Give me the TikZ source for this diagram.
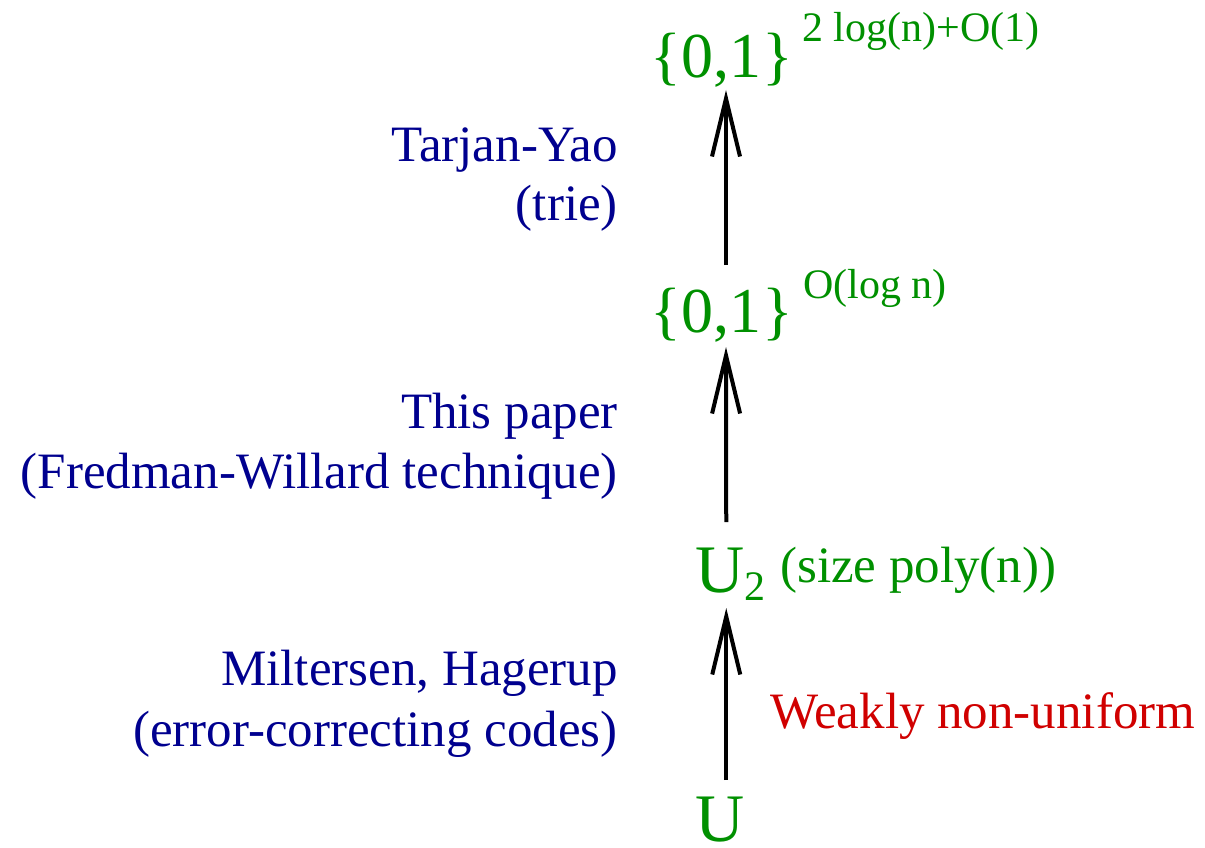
\documentclass[tikz,border=0pt]{standalone}
\usepackage{fontspec}
\setmainfont{Liberation Serif}
\usetikzlibrary{arrows.meta}
\definecolor{fgreen}{RGB}{0,144,0}
\definecolor{fblue}{RGB}{0,0,143}
\definecolor{fred}{RGB}{208,0,0}
\newcommand\myfs[1]{\fontsize{#1}{#1}\selectfont}
\tikzset{
  lbl/.style={inner sep=0pt, text=fblue, font=\myfs{51}, anchor=base east},
  setnode/.style={inner sep=0pt, text=fgreen, font=\myfs{64}, anchor=base},
  supnode/.style={inner sep=0pt, text=fgreen, font=\myfs{42}, anchor=base west},
  unode/.style={inner sep=0pt, text=fgreen, font=\myfs{68}, anchor=base west},
  arr/.style={line width=4pt, -{Straight Barb[length=58pt,width=28pt,line width=4pt]}}
}
\begin{document}
\begin{tikzpicture}[x=1pt,y=-1pt]
\useasboundingbox (0,0) rectangle (1205,848);
% green set nodes
\node[setnode] (top) at (722,78) {\{0,1\kern2pt\}};
\node[supnode] (suptop) at (802,42) {2 log(n)+O(1)};
\node[setnode] (mid) at (722,332) {\{0,1\kern2pt\}};
\node[supnode] (supmid) at (803,298) {O(log n)};
\node[unode] (u2) at (695,592) {U\raisebox{-8pt}{\myfs{42}2}};
\node[inner sep=0pt, text=fgreen, font=\myfs{51}, anchor=base west] (size) at (780,582) {(size poly(n))};
\node[unode] (u) at (695,841) {U};
% blue labels
\node[lbl] (tarjan) at (618,162) {Tarjan-Yao};
\node[lbl] (trie) at (618,220) {(trie)};
\node[lbl] (this) at (618,428) {This paper};
\node[lbl] (fw) at (618,488) {(Fredman-Willard technique)};
\node[lbl] (milt) at (618,685) {Miltersen, Hagerup};
\node[lbl] (ecc) at (618,746) {(error-correcting codes)};
% red label
\node[inner sep=0pt, text=fred, font=\myfs{51}, anchor=base west] (weak) at (770,728) {Weakly non-uniform};
% arrows
\draw[arr] ([xshift=6.5pt,yshift=61pt]u.base) -- ([xshift=-4pt,yshift=-16pt]u2.base);
\draw[arr] ([xshift=-4pt,yshift=70pt]u2.base) -- ([xshift=4pt,yshift=-15pt]mid.base);
\draw[arr] ([xshift=4pt,yshift=67pt]mid.base) -- ([xshift=4pt,yshift=-12pt]top.base);
\end{tikzpicture}
\end{document}
